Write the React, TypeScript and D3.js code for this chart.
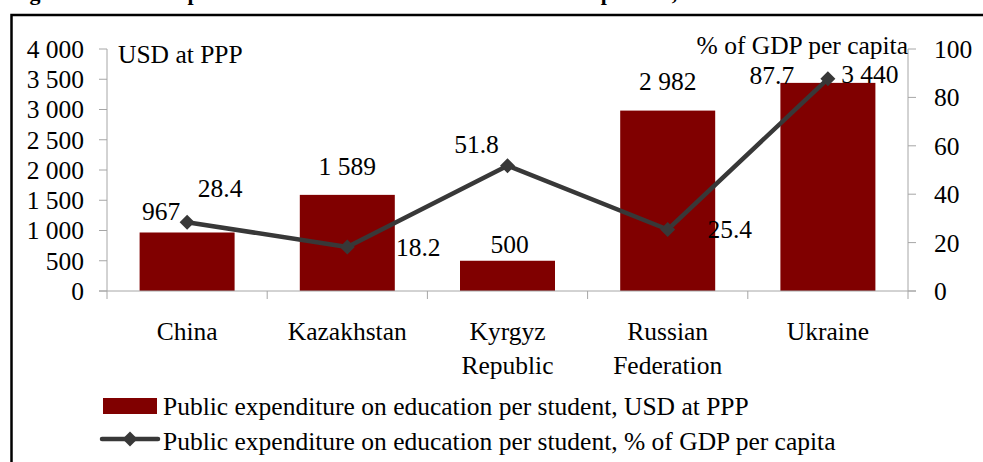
import React from "react";
import * as d3 from "d3";

const categories = [["China"], ["Kazakhstan"], ["Kyrgyz", "Republic"], ["Russian", "Federation"], ["Ukraine"]];
const usdValues = [967, 1589, 500, 2982, 3440];
const usdLabels = ["967", "1 589", "500", "2 982", "3 440"];
const gdpValues = [28.4, 18.2, 51.8, 25.4, 87.7];
const gdpLabels = ["28.4", "18.2", "51.8", "25.4", "87.7"];
const leftTicks = [0, 500, 1000, 1500, 2000, 2500, 3000, 3500, 4000];
const rightTicks = [0, 20, 40, 60, 80, 100];
const seriesNames = [
  "Public expenditure on education per student, USD at PPP",
  "Public expenditure on education per student, % of GDP per capita",
];
const titleText = "Figure 4: Public expenditure on education in international comparison, 2008";

// label placement offsets (layout, not data)
const barLabelOffset = [[-26, -12], [0, -20], [2, -8], [0, -21], [42, 0]];
const lineLabelOffset = [[33, -25], [71, 9], [-31, -13], [62, 8.5], [-56, 5]];

const W = 983;
const H = 462;
const FONT = "'Liberation Serif', 'Times New Roman', serif";
const FS = 25.5;
const BAR = "#800000";
const LINE = "#383838";
const AXIS = "#a6a6a6";

const fmt = (v: number) => d3.format(",")(v).replace(/,/g, " ");

export default function App() {
  const x0 = 107, x1 = 908, yTop = 49, yBot = 291;
  const x = d3.scaleBand<number>().domain(d3.range(categories.length)).range([x0, x1]).paddingInner(0).paddingOuter(0);
  const yL = d3.scaleLinear().domain([0, 4000]).range([yBot, yTop]);
  const yR = d3.scaleLinear().domain([0, 100]).range([yBot, yTop]);
  const bw = x.bandwidth() * 0.593;
  const cx = (i: number) => (x(i) as number) + x.bandwidth() / 2;
  const line = d3.line<number>().x((_, i) => cx(i)).y((d) => yR(d));
  const diamond = (px: number, py: number, r: number) =>
    `M${px},${py - r}L${px + r},${py}L${px},${py + r}L${px - r},${py}Z`;

  return (
    <>
      <style>{`body{margin:0}`}</style>
      <svg width={W} height={H} style={{ display: "block", fontFamily: FONT }}>
        <rect x={0} y={0} width={W} height={H} fill="#fff" />
        <text x={10} y={0} fontSize={22} fontWeight="bold" fill="#000">{titleText}</text>
        {/* frame */}
        <path d={`M11.5,${H + 2}V15H${W + 5}`} fill="none" stroke="#000" strokeWidth={2.5} />

        {/* bars */}
        {usdValues.map((v, i) => (
          <rect key={"b" + i} x={cx(i) - bw / 2} y={yL(v)} width={bw} height={yBot - yL(v)} fill={BAR} />
        ))}

        {/* axes */}
        <line x1={x0} x2={x0} y1={yTop} y2={yBot} stroke={AXIS} strokeWidth={1} />
        <line x1={x1} x2={x1} y1={yTop} y2={yBot} stroke={AXIS} strokeWidth={1} />
        <line x1={x0 - 8} x2={x1 + 8} y1={yBot} y2={yBot} stroke={AXIS} strokeWidth={1} />
        {leftTicks.map((t) => (
          <g key={"l" + t}>
            <line x1={x0 - 8} x2={x0} y1={yL(t)} y2={yL(t)} stroke={AXIS} />
            <text x={84} y={yL(t)} dy="0.35em" textAnchor="end" fontSize={FS}>{fmt(t)}</text>
          </g>
        ))}
        {rightTicks.map((t) => (
          <g key={"r" + t}>
            <line x1={x1} x2={x1 + 8} y1={yR(t)} y2={yR(t)} stroke={AXIS} />
            <text x={934} y={yR(t)} dy="0.35em" textAnchor="start" fontSize={FS}>{t}</text>
          </g>
        ))}
        {d3.range(categories.length + 1).map((i) => {
          const px = i < categories.length ? (x(i) as number) : x1;
          return <line key={"t" + i} x1={px} x2={px} y1={yBot} y2={yBot + 8} stroke={AXIS} />;
        })}
        {categories.map((lines, i) => (
          <text key={"c" + i} x={cx(i)} y={340} textAnchor="middle" fontSize={FS}>
            {lines.map((s, j) => (
              <tspan key={j} x={cx(i)} dy={j === 0 ? 0 : 34}>{s}</tspan>
            ))}
          </text>
        ))}

        {/* axis titles */}
        <text x={118} y={63} fontSize={FS}>USD at PPP</text>
        <text x={908} y={54} textAnchor="end" fontSize={FS}>% of GDP per capita</text>

        {/* line */}
        <path d={line(gdpValues) || ""} fill="none" stroke={LINE} strokeWidth={4.5} strokeLinejoin="round" />
        {gdpValues.map((v, i) => (
          <path key={"m" + i} d={diamond(cx(i), yR(v), 7.5)} fill={LINE} />
        ))}

        {/* data labels */}
        {usdValues.map((v, i) => (
          <text key={"bl" + i} x={cx(i) + barLabelOffset[i][0]} y={yL(v) + barLabelOffset[i][1]} textAnchor="middle" fontSize={FS}>
            {usdLabels[i]}
          </text>
        ))}
        {gdpValues.map((v, i) => (
          <text key={"ll" + i} x={cx(i) + lineLabelOffset[i][0]} y={yR(v) + lineLabelOffset[i][1]} textAnchor="middle" fontSize={FS}>
            {gdpLabels[i]}
          </text>
        ))}

        {/* legend */}
        <rect x={103} y={398} width={54} height={16} fill={BAR} />
        <text x={163} y={415} fontSize={FS}>{seriesNames[0]}</text>
        <line x1={102} x2={158} y1={439} y2={439} stroke={LINE} strokeWidth={4.5} strokeLinecap="round" />
        <path d={diamond(130, 439, 7.5)} fill={LINE} />
        <text x={163} y={450} fontSize={FS}>{seriesNames[1]}</text>
      </svg>
    </>
  );
}
